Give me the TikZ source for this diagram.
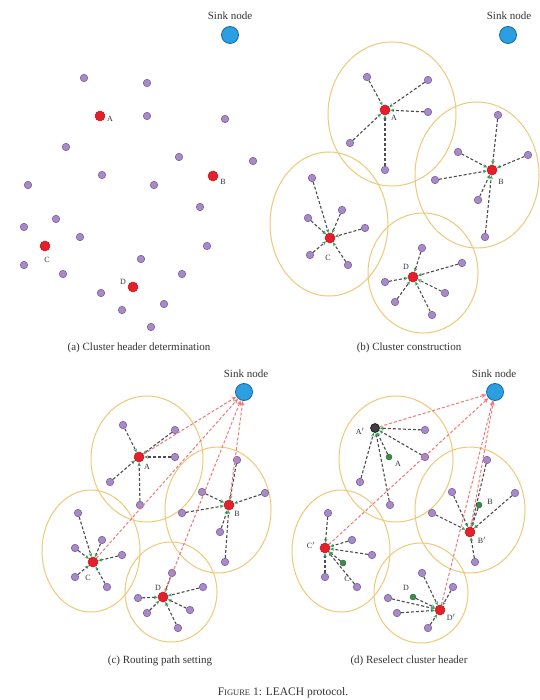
\documentclass[tikz,border=0pt]{standalone}
\usepackage{fontspec}
\setmainfont{Liberation Serif}
\usetikzlibrary{arrows.meta,shapes.geometric}
\definecolor{memb}{HTML}{A78BC6}
\definecolor{membd}{HTML}{7E63A0}
\definecolor{headred}{HTML}{E5202A}
\definecolor{sinkblue}{HTML}{2C9FE0}
\definecolor{sinkd}{HTML}{1668A8}
\definecolor{ringc}{HTML}{EFC878}
\definecolor{routered}{HTML}{F07878}
\definecolor{tipgreen}{HTML}{3FA060}
\definecolor{oldgreen}{HTML}{3E8A4A}
\tikzset{
 member/.style={circle,fill=memb,draw=membd,line width=0.6pt,minimum size=7.5pt,inner sep=0pt},
 headnode/.style={circle,fill=headred,draw=headred!80!black,line width=0.5pt,minimum size=10pt,inner sep=0pt},
 darkhead/.style={circle,fill=black!75,draw=black,line width=0.5pt,minimum size=9pt,inner sep=0pt},
 oldhead/.style={circle,fill=oldgreen,draw=oldgreen!70!black,line width=0.4pt,minimum size=6pt,inner sep=0pt},
 sinknode/.style={circle,fill=sinkblue,draw=sinkd,line width=0.8pt,minimum size=17pt,inner sep=0pt},
 ringe/.style={draw=ringc,line width=1pt},
 link/.style={draw=black!70,line width=1.1pt,dash pattern=on 3pt off 2pt,-{Stealth[length=4pt,width=3.5pt,color=tipgreen]}},
 route/.style={draw=routered,line width=1pt,dash pattern=on 3pt off 2pt,-{Stealth[length=5pt,width=4pt]}},
 lbl/.style={font=\fontsize{8}{9}\selectfont,inner sep=0pt,text=black!80},
 sinklbl/.style={font=\fontsize{11}{12}\selectfont,inner sep=0pt,text=black!80},
 captxt/.style={font=\fontsize{11}{12}\selectfont,inner sep=0pt,text=black!80},
}
\begin{document}
\begin{tikzpicture}[x=1pt,y=-1pt]
\useasboundingbox (0,0) rectangle (539,700);
\fill[white] (0,0) rectangle (539,700);

% ================= (a) =================
\node[sinknode] (sa) at (230,35) {};
\node[sinklbl] (sal) at (230,16) {Sink node};
\foreach \px/\py [count=\i] in {84/78,147/83,147/116,225/119,66/147,179/157,253/161,102/175,154/185,28/185,200/207,56/219,24/227,80/237,207/246,24/265,141/259,63/274,182/274,101/293,164/304,122/310,151/327}
  \node[member] (am\i) at (\px,\py) {};
\node[headnode] (aA) at (100,116) {};
\node[headnode] (aB) at (213,176) {};
\node[headnode] (aC) at (45,246) {};
\node[headnode] (aD) at (133,287) {};
\node[lbl] (aAl) at (110,119) {A};
\node[lbl] (aBl) at (223,182) {B};
\node[lbl] (aCl) at (47,260) {C};
\node[lbl] (aDl) at (123,282) {D};
\node[captxt] (capa) at (139,348) {(a) Cluster header determination};

% ================= (b) =================
\draw[ringe] (392,114) ellipse [x radius=64, y radius=72];
\draw[ringe] (477,175) ellipse [x radius=62, y radius=73];
\draw[ringe] (329,224) ellipse [x radius=59, y radius=72];
\draw[ringe] (423,273) ellipse [x radius=55, y radius=60];
\node[sinknode] (sb) at (508,35) {};
\node[sinklbl] (sbl) at (509,16) {Sink node};
\node[headnode] (bA) at (385,110) {};
\node[headnode] (bB) at (492,170) {};
\node[headnode] (bC) at (330,238) {};
\node[headnode] (bD) at (413,277) {};
\foreach \px/\py [count=\i] in {367/77,428/80,428/112,350/143,385/170}
  {\node[member] (bA\i) at (\px,\py) {}; \draw[link] (bA\i) -- (bA);}
\foreach \px/\py [count=\i] in {498/115,458/152,528/155,435/180,478/200,485/237}
  {\node[member] (bB\i) at (\px,\py) {}; \draw[link] (bB\i) -- (bB);}
\foreach \px/\py [count=\i] in {312/178,308/218,342/210,365/228,310/255,348/265}
  {\node[member] (bC\i) at (\px,\py) {}; \draw[link] (bC\i) -- (bC);}
\foreach \px/\py [count=\i] in {422/248,462/263,385/282,395/302,445/293,432/315}
  {\node[member] (bD\i) at (\px,\py) {}; \draw[link] (bD\i) -- (bD);}
\node[lbl] (bAl) at (394,118) {A};
\node[lbl] (bBl) at (501,182) {B};
\node[lbl] (bCl) at (328,258) {C};
\node[lbl] (bDl) at (406,267) {D};
\node[captxt] (capb) at (409,348) {(b) Cluster construction};

% ================= (c) =================
\draw[ringe] (147,459) ellipse [x radius=56, y radius=63];
\draw[ringe] (218,510) ellipse [x radius=53, y radius=63];
\draw[ringe] (91,551) ellipse [x radius=49, y radius=61];
\draw[ringe] (171,592) ellipse [x radius=46, y radius=50];
\node[sinknode] (sc) at (244,392) {};
\node[sinklbl] (scl) at (246,374) {Sink node};
\node[headnode] (cA) at (139,457) {};
\node[headnode] (cB) at (229,505) {};
\node[headnode] (cC) at (93,562) {};
\node[headnode] (cD) at (163,597) {};
\foreach \px/\py [count=\i] in {123/425,175/430,175/457,110/482,140/505}
  {\node[member] (cA\i) at (\px,\py) {}; \draw[link] (cA\i) -- (cA);}
\foreach \px/\py [count=\i] in {237/460,202/492,265/493,182/513,220/532,225/562}
  {\node[member] (cB\i) at (\px,\py) {}; \draw[link] (cB\i) -- (cB);}
\foreach \px/\py [count=\i] in {78/513,75/548,102/540,122/555,75/577,107/587}
  {\node[member] (cC\i) at (\px,\py) {}; \draw[link] (cC\i) -- (cC);}
\foreach \px/\py [count=\i] in {172/573,203/587,138/598,147/613,190/610,178/628}
  {\node[member] (cD\i) at (\px,\py) {}; \draw[link] (cD\i) -- (cD);}
\draw[route] (cA) -- (sc);
\draw[route] (cB) -- (sc);
\draw[route] (cC) -- (sc);
\draw[route] (cD) -- (sc);
\node[lbl] (cAl) at (147,467) {A};
\node[lbl] (cBl) at (237,514) {B};
\node[lbl] (cCl) at (88,578) {C};
\node[lbl] (cDl) at (158,588) {D};
\node[captxt] (capc) at (160,661) {(c) Routing path setting};

% ================= (d) =================
\draw[ringe] (396,459) ellipse [x radius=57, y radius=63];
\draw[ringe] (470,510) ellipse [x radius=55, y radius=63];
\draw[ringe] (341,551) ellipse [x radius=49, y radius=61];
\draw[ringe] (421,593) ellipse [x radius=47, y radius=50];
\node[sinknode] (sd) at (495,392) {};
\node[sinklbl] (sdl) at (494,374) {Sink node};
\node[darkhead] (dA) at (375,428) {};
\node[headnode] (dB) at (470,532) {};
\node[headnode] (dC) at (325,548) {};
\node[headnode] (dD) at (440,610) {};
\node[oldhead] (doA) at (389,457) {};
\node[oldhead] (doB) at (479,505) {};
\node[oldhead] (doC) at (343,563) {};
\node[oldhead] (doD) at (413,597) {};
\draw[link] (doA) -- (dA);
\draw[link] (doB) -- (dB);
\draw[link] (doC) -- (dC);
\draw[link] (doD) -- (dD);
\foreach \px/\py [count=\i] in {425/430,425/457,360/482,390/505}
  {\node[member] (dA\i) at (\px,\py) {}; \draw[link] (dA\i) -- (dA);}
\foreach \px/\py [count=\i] in {487/460,452/492,515/493,432/513,475/562}
  {\node[member] (dB\i) at (\px,\py) {}; \draw[link] (dB\i) -- (dB);}
\foreach \px/\py [count=\i] in {328/513,352/540,372/555,325/577,357/587}
  {\node[member] (dC\i) at (\px,\py) {}; \draw[link] (dC\i) -- (dC);}
\foreach \px/\py [count=\i] in {422/573,453/587,388/598,397/613,428/628}
  {\node[member] (dD\i) at (\px,\py) {}; \draw[link] (dD\i) -- (dD);}
\draw[route] (dA) -- (sd);
\draw[route] (dB) -- (sd);
\draw[route] (dC) -- (sd);
\draw[route] (dD) -- (sd);
\node[lbl] (dAl) at (360,431) {A$'$};
\node[lbl] (doAl) at (398,464) {A};
\node[lbl] (dBl) at (482,540) {B$'$};
\node[lbl] (doBl) at (490,502) {B};
\node[lbl] (dCl) at (311,545) {C$'$};
\node[lbl] (doCl) at (347,579) {C};
\node[lbl] (doDl) at (406,588) {D};
\node[lbl] (dDl) at (451,617) {D$'$};
\node[captxt] (capd) at (409,661) {(d) Reselect cluster header};

% ================= figure caption =================
\node[captxt,font=\fontsize{11.5}{13}\selectfont] (fig) at (283,693) {F{\fontsize{8.5}{10}\selectfont IGURE} 1: LEACH protocol.};
\end{tikzpicture}
\end{document}
